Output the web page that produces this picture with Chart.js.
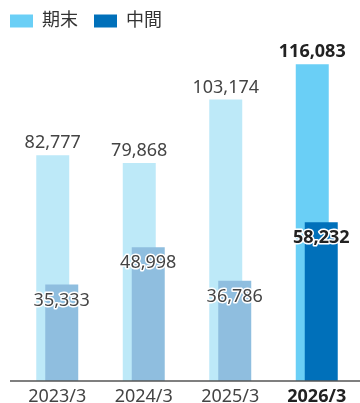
<!DOCTYPE html>
<html>
<head>
<meta charset="utf-8">
<script src="https://cdn.jsdelivr.net/npm/chart.js@4"></script>
<style>
  html, body { margin: 0; padding: 0; background: #fff; }
  #wrap { width: 360px; height: 403px; }
</style>
</head>
<body>
<div id="wrap"><canvas id="myChart"></canvas></div>
<script>
var years = ["2023/3", "2024/3", "2025/3", "2026/3"];
var kimatsu = [82777, 79868, 103174, 116083];
var chukan = [35333, 48998, 36786, 58232];
var seriesNames = ["期末", "中間"];

var last = years.length - 1;
var fontFamily = '"Noto Sans", "Noto Sans CJK JP", sans-serif';

function fmt(v) {
  return v.toLocaleString('en-US');
}

// draw datasets so the second one (中間) sits on top of the first
var drawOrder = {
  id: 'drawOrder',
  beforeDatasetsDraw: function(chart) {
    chart.getSortedVisibleDatasetMetas().forEach(function(m) {
      m.controller.draw();
    });
    return false;
  }
};

var valueLabels = {
  id: 'valueLabels',
  afterDraw: function(chart) {
    var c = chart.ctx;
    var area = chart.chartArea;
    c.save();
    // axis line
    c.strokeStyle = '#555';
    c.lineWidth = 1.5;
    c.beginPath();
    c.moveTo(10, area.bottom);
    c.lineTo(360, area.bottom);
    c.stroke();

    c.textAlign = 'center';
    var m0 = chart.getDatasetMeta(0);
    m0.data.forEach(function(bar, i) {
      c.font = (i === last ? 'bold ' : '') + '18px ' + fontFamily;
      c.fillStyle = i === last ? '#222' : '#444';
      c.textBaseline = 'alphabetic';
      c.fillText(fmt(kimatsu[i]), bar.x, bar.y - 7);
    });
    var m1 = chart.getDatasetMeta(1);
    m1.data.forEach(function(bar, i) {
      c.font = (i === last ? 'bold ' : '') + '18px ' + fontFamily;
      c.textBaseline = 'middle';
      c.lineJoin = 'round';
      c.strokeStyle = '#fff';
      c.lineWidth = 3;
      c.strokeText(fmt(chukan[i]), bar.x, bar.y + 16);
      c.fillStyle = i === last ? '#222' : '#444';
      c.fillText(fmt(chukan[i]), bar.x, bar.y + 16);
    });
    c.restore();
  }
};

var ctx = document.getElementById('myChart').getContext('2d');

var config = {
  type: 'bar',
  data: {
    labels: years,
    datasets: [{
      label: seriesNames[0],
      data: kimatsu,
      backgroundColor: years.map(function(y, i) { return i === last ? '#6acff6' : '#bde9f8'; }),
      categoryPercentage: 0.208,
      barPercentage: 3.667
    }, {
      label: seriesNames[1],
      data: chukan,
      backgroundColor: years.map(function(y, i) { return i === last ? '#0070ba' : '#8fbedf'; }),
      categoryPercentage: 0.208,
      barPercentage: 3.667
    }]
  },
  options: {
    responsive: true,
    maintainAspectRatio: false,
    animation: false,
    layout: { padding: { top: -4, left: -6, right: 0, bottom: 0 } },
    plugins: {
      tooltip: { enabled: false },
      legend: {
        align: 'start',
        labels: {
          boxWidth: 23,
          boxHeight: 13,
          padding: 16,
          color: '#333',
          font: { family: fontFamily, size: 18 },
          generateLabels: function(chart) {
            return chart.data.datasets.map(function(ds, i) {
              return {
                text: ds.label,
                fillStyle: i === 0 ? '#6acff6' : '#0070ba',
                strokeStyle: 'transparent',
                lineWidth: 0,
                datasetIndex: i,
                fontColor: '#333'
              };
            });
          }
        }
      }
    },
    scales: {
      x: {
        grid: { display: false, drawTicks: false, tickLength: 0 },
        border: { display: false },
        afterFit: function(s) { s.height = 22; },
        ticks: {
          padding: 7,
          color: function(c) { return c.index === last ? '#222' : '#444'; },
          font: function(c) {
            return { family: fontFamily, size: 18, lineHeight: 1, weight: c.index === last ? 'bold' : 'normal' };
          }
        }
      },
      y: {
        min: 0,
        max: 125000,
        grid: { display: false },
        border: { display: false },
        ticks: { display: false },
        afterFit: function(s) { s.width = 20; }
      }
    }
  },
  plugins: [drawOrder, valueLabels]
};

var chart = new Chart(ctx, config);
</script>
</body>
</html>
